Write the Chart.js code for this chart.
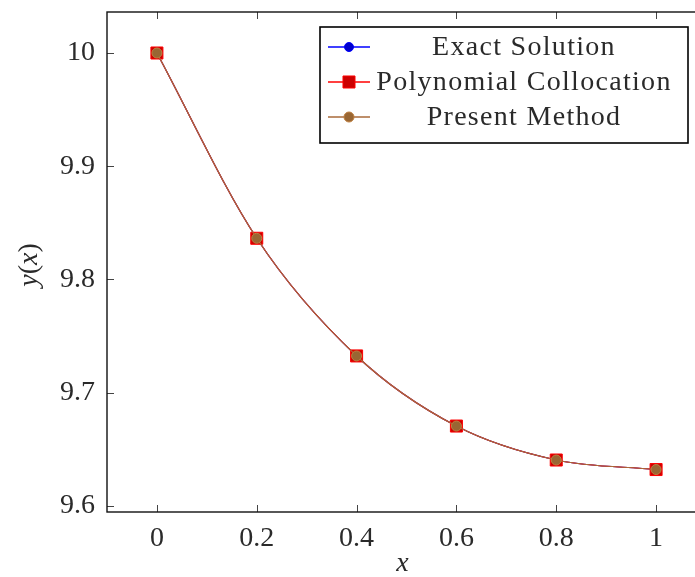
<!DOCTYPE html>
<html>
<head>
<meta charset="utf-8">
<script src="https://cdn.jsdelivr.net/npm/chart.js"></script>
<style>
  html, body { margin:0; padding:0; background:#fff; overflow:hidden; }
  #wrap { position:absolute; left:0; top:0; width:720px; height:577px; }
</style>
</head>
<body>
<div id="wrap"><canvas id="chart" width="720" height="577"></canvas></div>
<script>
// ── DATA ─────────────────────────────────────
const xValues       = [0, 0.2, 0.4, 0.6, 0.8, 1];
const exactY        = [10.0, 9.8364, 9.7325, 9.6706, 9.6406, 9.6322];
const collocationY  = [10.0, 9.8364, 9.7325, 9.6706, 9.6406, 9.6322];
const presentY      = [10.0, 9.8364, 9.7325, 9.6706, 9.6406, 9.6322];
const seriesNames   = ['Exact Solution', 'Polynomial Collocation', 'Present Method'];

const xTicks      = [0, 0.2, 0.4, 0.6, 0.8, 1];
const xTickLabels = ['0', '0.2', '0.4', '0.6', '0.8', '1'];
const yTicks      = [9.6, 9.7, 9.8, 9.9, 10];
const yTickLabels = ['9.6', '9.7', '9.8', '9.9', '10'];
const xRange = [-0.1, 1.1];
const yRange = [9.5947, 10.0362];

const FONT = '"Liberation Serif", "DejaVu Serif", serif';
const TXT = '#2a2a2a';
const toPts = ys => xValues.map((x, i) => ({ x: x, y: ys[i] }));

// ── frame, inner ticks, axis titles, legend ──
const decor = {
  id: 'decor',
  afterDraw(chart) {
    const ctx = chart.ctx, ca = chart.chartArea;
    const sx = chart.scales.x, sy = chart.scales.y;
    ctx.save();
    // inner ticks on all four sides
    ctx.strokeStyle = '#444';
    ctx.lineWidth = 1;
    ctx.beginPath();
    xTicks.forEach(v => {
      const px = Math.round(sx.getPixelForValue(v)) + 0.5;
      ctx.moveTo(px, ca.bottom); ctx.lineTo(px, ca.bottom - 7);
      ctx.moveTo(px, ca.top);    ctx.lineTo(px, ca.top + 7);
    });
    yTicks.forEach(v => {
      const py = Math.round(sy.getPixelForValue(v)) + 0.5;
      ctx.moveTo(ca.left, py);  ctx.lineTo(ca.left + 7, py);
      ctx.moveTo(ca.right, py); ctx.lineTo(ca.right - 7, py);
    });
    ctx.stroke();
    // frame
    ctx.strokeStyle = '#111';
    ctx.lineWidth = 1.4;
    ctx.strokeRect(ca.left, ca.top, ca.right - ca.left, ca.bottom - ca.top);

    // axis titles
    ctx.fillStyle = TXT;
    ctx.textBaseline = 'middle';
    ctx.textAlign = 'center';
    ctx.font = 'italic 28px ' + FONT;
    ctx.fillText('x', (ca.left + ca.right) / 2 - 4, 564);

    ctx.translate(30, 265);
    ctx.rotate(-Math.PI / 2);
    const parts = [['y', true], ['(', false], ['x', true], [')', false]];
    let w = 0;
    parts.forEach(p => { ctx.font = (p[1] ? 'italic ' : '') + '28px ' + FONT; w += ctx.measureText(p[0]).width; });
    let cx = -w / 2;
    ctx.textAlign = 'left';
    parts.forEach(p => {
      ctx.font = (p[1] ? 'italic ' : '') + '28px ' + FONT;
      ctx.fillText(p[0], cx, 0);
      cx += ctx.measureText(p[0]).width;
    });
    ctx.setTransform(1, 0, 0, 1, 0, 0);

    // legend
    const bx = 320, by = 27, bw = 368, bh = 116;
    ctx.fillStyle = '#fff';
    ctx.fillRect(bx, by, bw, bh);
    ctx.strokeStyle = '#000';
    ctx.lineWidth = 1.6;
    ctx.strokeRect(bx, by, bw, bh);
    const rows = [47, 82, 117];
    chart.data.datasets.forEach((ds, i) => {
      const y = rows[i];
      ctx.strokeStyle = ds.borderColor;
      ctx.lineWidth = 1.3;
      ctx.beginPath(); ctx.moveTo(328, y); ctx.lineTo(370, y); ctx.stroke();
      ctx.fillStyle = ds.pointBackgroundColor;
      ctx.strokeStyle = ds.pointBorderColor;
      ctx.lineWidth = 1;
      Chart.helpers.drawPoint(ctx, {
        pointStyle: ds.pointStyle, rotation: 0, borderWidth: 1, radius: ds.pointRadius
      }, 349, y);
      ctx.fillStyle = TXT;
      ctx.font = '28px ' + FONT;
      ctx.letterSpacing = '1.3px';
      ctx.textAlign = 'center';
      ctx.textBaseline = 'middle';
      ctx.fillText(ds.label, 524, y + 1);
      ctx.letterSpacing = '0px';
    });
    ctx.restore();
  }
};

function fixTicks(values) {
  return scale => { scale.ticks = values.map(v => ({ value: v })); };
}

new Chart(document.getElementById('chart'), {
  type: 'line',
  data: {
    datasets: [
      {
        label: seriesNames[0], data: toPts(exactY), order: 3,
        borderColor: '#0000ff', borderWidth: 1.2,
        pointStyle: 'circle', pointRadius: 4.5,
        pointBackgroundColor: '#0000cc', pointBorderColor: '#0000ff', pointBorderWidth: 1
      },
      {
        label: seriesNames[1], data: toPts(collocationY), order: 2,
        borderColor: '#ff0000', borderWidth: 1.2,
        pointStyle: 'rect', pointRadius: 8.5,
        pointBackgroundColor: '#cc0000', pointBorderColor: '#ff0000', pointBorderWidth: 1
      },
      {
        label: seriesNames[2], data: toPts(presentY), order: 1,
        borderColor: '#a86a3a', borderWidth: 1.2,
        pointStyle: 'circle', pointRadius: 5,
        pointBackgroundColor: '#996633', pointBorderColor: '#bf8040', pointBorderWidth: 1
      }
    ]
  },
  options: {
    responsive: false,
    animation: false,
    devicePixelRatio: 1,
    layout: { padding: { top: 12, right: 14, left: 0, bottom: 0 } },
    plugins: { legend: { display: false }, tooltip: { enabled: false } },
    elements: { line: { cubicInterpolationMode: 'monotone' } },
    scales: {
      x: {
        type: 'linear', min: xRange[0], max: xRange[1],
        afterBuildTicks: fixTicks(xTicks),
        afterFit: s => { s.height = 65; s.paddingLeft = 0; s.paddingRight = 0; },
        grid: { display: false, drawTicks: false },
        border: { display: false },
        ticks: {
          padding: 10, color: TXT, font: { family: FONT, size: 28 },
          maxRotation: 0, autoSkip: false,
          callback: v => xTickLabels[xTicks.indexOf(v)]
        }
      },
      y: {
        type: 'linear', min: yRange[0], max: yRange[1],
        afterBuildTicks: fixTicks(yTicks),
        afterFit: s => { s.width = 107; s.paddingTop = 0; s.paddingBottom = 0; },
        grid: { display: false, drawTicks: false },
        border: { display: false },
        ticks: {
          padding: 12, color: TXT, font: { family: FONT, size: 28 },
          autoSkip: false,
          callback: v => yTickLabels[yTicks.indexOf(v)]
        }
      }
    }
  },
  plugins: [decor]
});
</script>
</body>
</html>
